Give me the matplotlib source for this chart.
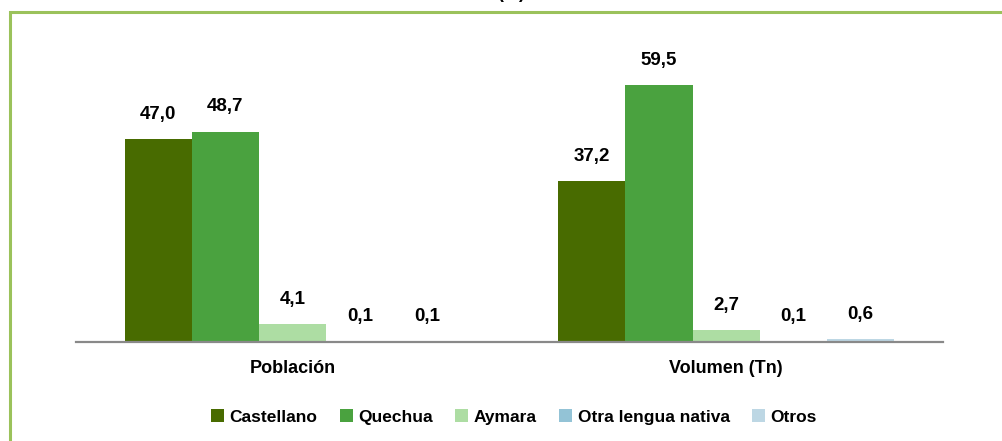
import matplotlib
matplotlib.use('Agg')
from matplotlib import pyplot as plt
from matplotlib.patches import Rectangle
import numpy as np

# Datos del gráfico (%)
categorias = ['Población', 'Volumen (Tn)']
series = ['Castellano', 'Quechua', 'Aymara', 'Otra lengua nativa', 'Otros']
castellano = [47.0, 37.2]
quechua = [48.7, 59.5]
aymara = [4.1, 2.7]
otra_lengua = [0.1, 0.1]
otros = [0.1, 0.6]
colores = ['#486B00', '#4AA23F', '#ADDDA3', '#93C3D6', '#BDD7E4']

plt.rcParams['font.family'] = ['Liberation Sans Narrow', 'Liberation Sans', 'DejaVu Sans']

fig = plt.figure(figsize=(10.02, 4.41), dpi=100)
ax = fig.add_axes([0.0758, 0.2245, 0.8652, 0.685])

valores = [castellano, quechua, aymara, otra_lengua, otros]
x = np.arange(len(categorias))
ancho = 0.155
for i, (nombre, vals) in enumerate(zip(series, valores)):
    pos = x + (i - 2) * ancho
    barras = ax.bar(pos, vals, ancho, color=colores[i], label=nombre)
    for b, v in zip(barras, vals):
        ax.annotate(f'{v:.1f}'.replace('.', ','),
                    (b.get_x() + b.get_width() / 2, b.get_height()),
                    xytext=(0, 12), textcoords='offset points',
                    ha='center', va='bottom', fontsize=13.5, fontweight='bold')

ax.set_xlim(-0.5, 1.5)
ax.set_ylim(0, 70)
ax.set_xticks(x)
ax.set_xticklabels(categorias, fontsize=13, fontweight='bold')
ax.tick_params(axis='x', length=0, pad=13)
ax.set_yticks([])
for s in ['top', 'right', 'left']:
    ax.spines[s].set_visible(False)
ax.spines['bottom'].set_color('#898989')
ax.spines['bottom'].set_linewidth(1.6)

fig.legend(loc='center', bbox_to_anchor=(0.513, 0.054), ncol=5, frameon=False,
           prop={'size': 12.5, 'weight': 'bold'}, handlelength=0.75,
           handleheight=0.75, handletextpad=0.3, columnspacing=1.3)

# Marco verde
fig.patches.append(Rectangle((9.5 / 1002, -0.1), 1.2, 1.1 - 11.5 / 441,
                             transform=fig.transFigure, fill=False,
                             edgecolor='#9BC25B', linewidth=2.2))
fig.text(0.51, 1 - 2 / 441, '(%)', ha='center', va='bottom', fontsize=13, fontweight='bold')

fig.savefig('out.png', dpi=100)
plt.close()
